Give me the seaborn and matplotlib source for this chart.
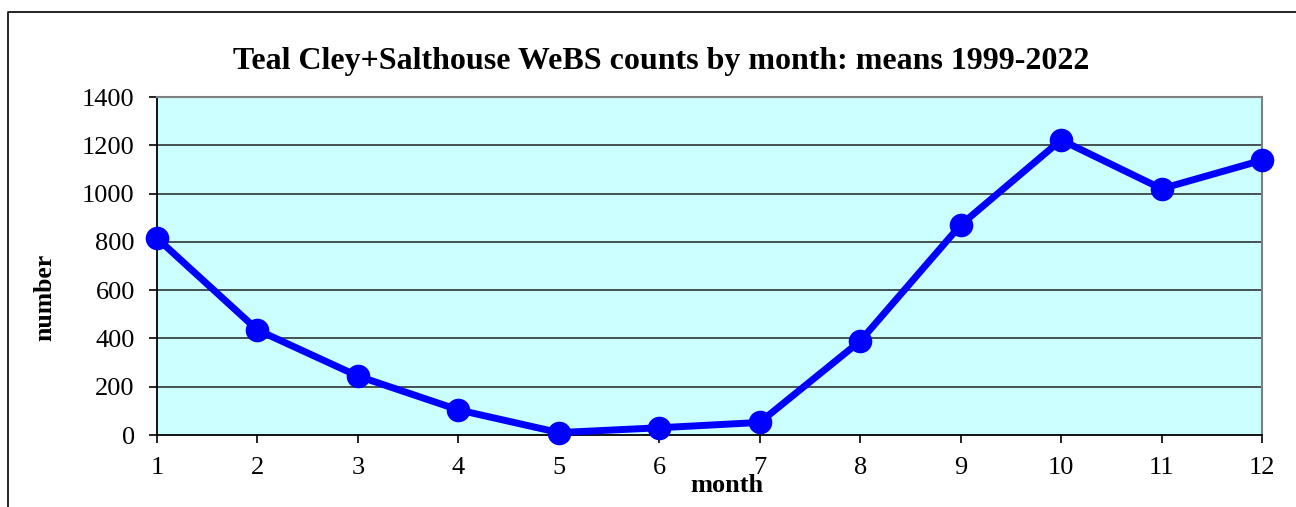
import matplotlib
matplotlib.use("Agg")
import matplotlib.pyplot as plt
import seaborn as sns
import pandas as pd
from matplotlib.lines import Line2D

months = [1, 2, 3, 4, 5, 6, 7, 8, 9, 10, 11, 12]
counts = [815, 435, 244, 104, 10, 30, 52, 389, 870, 1222, 1020, 1138]
y_ticks = [0, 200, 400, 600, 800, 1000, 1200, 1400]
title = "Teal Cley+Salthouse WeBS counts by month: means 1999-2022"

df = pd.DataFrame({"month": months, "number": counts})

sns.set_style("white")
plt.rcParams["font.family"] = ["Liberation Serif", "DejaVu Serif"]
plt.rcParams["text.color"] = "black"
plt.rcParams["xtick.color"] = "black"
plt.rcParams["ytick.color"] = "black"

fig = plt.figure(figsize=(12.96, 5.07), dpi=100)
ax = fig.add_axes([157/1296, 72/507, 1105/1296, 338/507])
ax.set_facecolor("#CCFFFF")

sns.lineplot(data=df, x="month", y="number", ax=ax, color="#0000FF",
             linewidth=5, marker="o", markersize=17, markeredgewidth=0,
             clip_on=False, zorder=5)

ax.set_xlim(1, 12)
ax.set_ylim(0, 1400)
ax.set_xticks(months)
ax.set_yticks(y_ticks)
ax.tick_params(axis="both", labelsize=19, length=6, width=1.2, color="black",
               labelcolor="black", pad=10, direction="out", bottom=True, left=True)
for y in y_ticks[1:-1]:
    ax.axhline(y, color="#222222", linewidth=1.1, zorder=1)

for s in ["left", "bottom"]:
    ax.spines[s].set_color("black")
    ax.spines[s].set_linewidth(1.3)
for s in ["top", "right"]:
    ax.spines[s].set_color("#808080")
    ax.spines[s].set_linewidth(1.5)

ax.set_xlabel("")
ax.set_ylabel("")
fig.text(727/1296, 1 - 486/507, "month", fontsize=19, fontweight="bold",
         ha="center", va="center", color="black")
fig.text(45/1296, 1 - 297/507, "number", fontsize=18.5, fontweight="bold",
         ha="center", va="center", rotation=90, color="black")
fig.text(661/1296, 1 - 62/507, title, fontsize=23, fontweight="bold",
         ha="center", va="center", color="black")

fig.add_artist(Line2D([8/1296, 8/1296, 1.0], [0, 1 - 12/507, 1 - 12/507],
                      transform=fig.transFigure, color="black", linewidth=1.2))

fig.savefig("out.png", dpi=100)
